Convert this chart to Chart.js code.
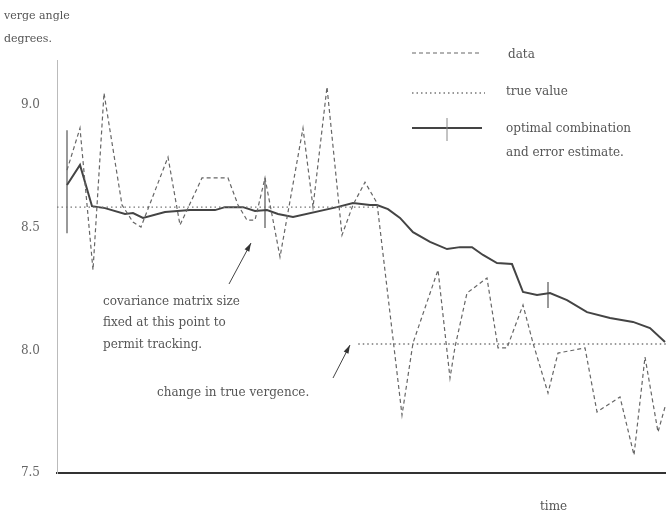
<!DOCTYPE html>
<html>
<head>
<meta charset="utf-8">
<script src="https://cdn.jsdelivr.net/npm/chart.js@4/dist/chart.umd.min.js"></script>
<style>
html,body{margin:0;padding:0;background:#fff;}
#wrap{position:relative;width:666px;height:518px;}
</style>
</head>
<body>
<div id="wrap"><canvas id="c" width="666" height="518"></canvas></div>
<script>
// ---- data (time in arbitrary steps, vergence in degrees) ----
const dataTime  = [0.8,1.84,2.88,3.76,5.2,6.08,6.72,8.88,9.84,11.6,13.68,14.48,15.2,15.84,16.64,17.84,19.68,20.48,21.6,22.8,23.68,24.64,25.6,27.6,28.48,30.48,31.44,31.84,32.8,34.4,35.28,36.0,37.28,38.08,39.28,40.08,42.24,43.2,45.04,46.16,47.04,48.08,48.64];
const dataValue = [8.735,8.906,8.328,9.049,8.593,8.523,8.503,8.788,8.511,8.703,8.703,8.593,8.531,8.531,8.703,8.381,8.906,8.584,9.074,8.470,8.593,8.686,8.601,7.736,8.030,8.328,7.887,8.014,8.234,8.295,8.010,8.010,8.185,8.030,7.826,7.989,8.010,7.749,7.810,7.573,7.973,7.667,7.769];

const estTime  = [0.8,1.84,2.8,3.84,5.44,6.08,6.88,8.64,10.64,12.64,13.44,14.88,15.84,16.8,17.68,18.88,22.4,23.68,25.04,25.6,26.48,27.44,28.48,29.84,31.2,32.24,33.2,34.08,35.2,36.4,37.28,38.4,39.44,40.8,42.4,44.24,46.08,47.44,48.64];
const estValue = [8.674,8.756,8.588,8.580,8.556,8.560,8.540,8.564,8.572,8.572,8.584,8.584,8.568,8.572,8.556,8.544,8.584,8.601,8.593,8.593,8.576,8.540,8.482,8.442,8.413,8.421,8.421,8.389,8.356,8.352,8.238,8.226,8.234,8.205,8.156,8.132,8.116,8.091,8.034];

const trueTime1  = [0, 25.7];
const trueValue1 = [8.584, 8.584];
const trueTime2  = [24.1, 48.72];
const trueValue2 = [8.026, 8.026];

const errTime = [0.8, 16.64, 39.28];
const errLow  = [8.478, 8.499, 8.173];
const errHigh = [8.898, 8.703, 8.279];

const yTicks = [7.5, 8.0, 8.5, 9.0];

// ---- build datasets ----
const pts = (xs, ys) => xs.map((x, i) => ({x: x, y: ys[i]}));
const datasets = [
  {label:'data', data: pts(dataTime, dataValue), borderColor:'#666', borderWidth:1.2, borderDash:[4,3], tension:0},
  {label:'true value', data: pts(trueTime1, trueValue1), borderColor:'#777', borderWidth:1.3, borderDash:[1.5,3]},
  {label:'true value 2', data: pts(trueTime2, trueValue2), borderColor:'#777', borderWidth:1.3, borderDash:[1.5,3]},
  {label:'optimal combination', data: pts(estTime, estValue), borderColor:'#444', borderWidth:2, tension:0}
];
errTime.forEach((t, i) => {
  datasets.push({label:'error '+i, data:[{x:t,y:errLow[i]},{x:t,y:errHigh[i]}], borderColor:'#555', borderWidth:1.2});
});
datasets.forEach(d => { d.showLine = true; d.pointRadius = 0; d.fill = false; d.clip = false; });

const TXT = '#555';
const SERIF = '"DejaVu Serif", "Liberation Serif", serif';

function arrow(ctx, x1, y1, x2, y2) {
  ctx.save();
  ctx.strokeStyle = '#444'; ctx.fillStyle = '#333'; ctx.lineWidth = 1;
  ctx.beginPath(); ctx.moveTo(x1, y1); ctx.lineTo(x2, y2); ctx.stroke();
  const a = Math.atan2(y2 - y1, x2 - x1), L = 9, W = 0.3;
  ctx.beginPath();
  ctx.moveTo(x2, y2);
  ctx.lineTo(x2 - L*Math.cos(a - W), y2 - L*Math.sin(a - W));
  ctx.lineTo(x2 - L*Math.cos(a + W), y2 - L*Math.sin(a + W));
  ctx.closePath(); ctx.fill();
  ctx.restore();
}

const annotate = {
  id: 'annotate',
  afterDraw(chart) {
    const ctx = chart.ctx;
    ctx.save();
    ctx.fillStyle = TXT;
    ctx.textBaseline = 'middle';
    ctx.textAlign = 'left';
    ctx.font = '11px ' + SERIF;
    ctx.fillText('verge angle', 4, 16);
    ctx.fillText('degrees.', 4, 39);

    // legend
    ctx.font = '12px ' + SERIF;
    ctx.strokeStyle = '#666'; ctx.lineWidth = 1.2;
    ctx.setLineDash([4,3]);
    ctx.beginPath(); ctx.moveTo(412, 53); ctx.lineTo(480, 53); ctx.stroke();
    ctx.fillText('data', 508, 55);
    ctx.strokeStyle = '#777'; ctx.lineWidth = 1.3;
    ctx.setLineDash([1.5,3]);
    ctx.beginPath(); ctx.moveTo(412, 93); ctx.lineTo(485, 93); ctx.stroke();
    ctx.fillText('true value', 506, 92);
    ctx.setLineDash([]);
    ctx.strokeStyle = '#444'; ctx.lineWidth = 2;
    ctx.beginPath(); ctx.moveTo(412, 128); ctx.lineTo(482, 128); ctx.stroke();
    ctx.strokeStyle = '#888'; ctx.lineWidth = 1;
    ctx.beginPath(); ctx.moveTo(447, 118); ctx.lineTo(447, 141); ctx.stroke();
    ctx.fillText('optimal combination', 506, 129);
    ctx.fillText('and error estimate.', 506, 153);

    // annotations
    ctx.fillText('covariance matrix size', 103, 302);
    ctx.fillText('fixed at this point to', 103, 323);
    ctx.fillText('permit tracking.', 103, 345);
    ctx.fillText('change in true vergence.', 157, 393);
    ctx.fillText('time', 540, 507);
    ctx.restore();

    arrow(ctx, 229, 284, 251, 243);
    arrow(ctx, 333, 378, 350, 345);
  }
};

new Chart(document.getElementById('c'), {
  type: 'scatter',
  data: { datasets: datasets },
  options: {
    responsive: false,
    animation: false,
    layout: { padding: { top: 60, left: 0, right: 0, bottom: 0 } },
    plugins: { legend: { display: false }, tooltip: { enabled: false } },
    scales: {
      x: {
        type: 'linear', min: 0, max: 48.72,
        grid: { display: false, drawTicks: false },
        ticks: { display: false },
        border: { display: true, color: '#333', width: 2 },
        afterFit(s) { s.height = 45; }
      },
      y: {
        type: 'linear', min: 7.5, max: 9.184,
        grid: { display: false, drawTicks: false },
        border: { display: true, color: '#bbb', width: 1, dash: [1, 3] },
        afterBuildTicks(s) { s.ticks = yTicks.map(v => ({ value: v })); },
        ticks: {
          color: '#666', padding: 17,
          font: { family: SERIF, size: 12 },
          callback: v => Number(v).toFixed(1)
        },
        afterFit(s) { s.width = 57; }
      }
    }
  },
  plugins: [annotate]
});
</script>
</body>
</html>
